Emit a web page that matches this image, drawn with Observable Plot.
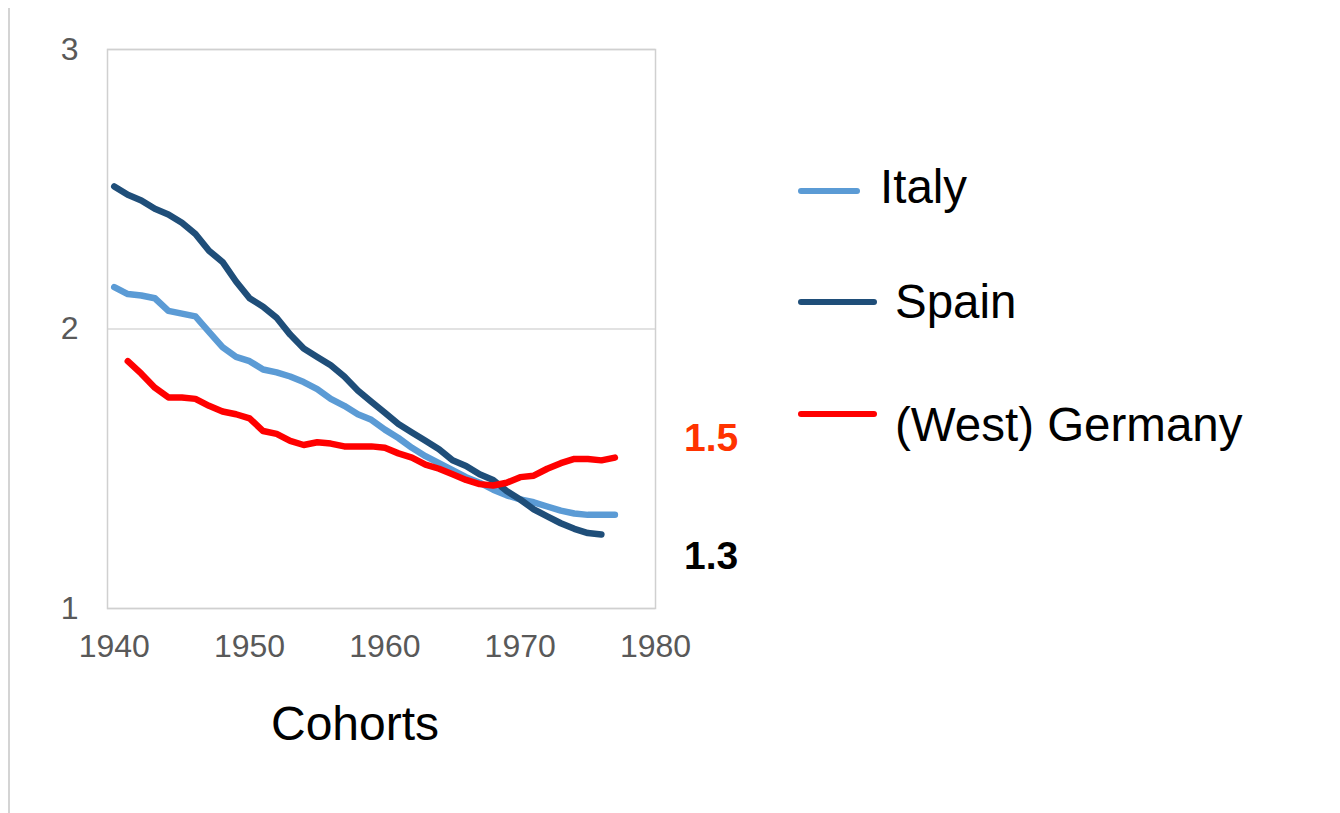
<!DOCTYPE html>
<html>
<head>
<meta charset="utf-8">
<script src="https://cdn.jsdelivr.net/npm/d3@7"></script>
<script src="https://cdn.jsdelivr.net/npm/@observablehq/plot@0.6"></script>
<style>
  html, body { margin: 0; padding: 0; background: #fff; }
  #wrap { position: relative; width: 1340px; height: 813px; overflow: hidden; font-family: "Liberation Sans", Arial, sans-serif; }
  #leftline { position: absolute; left: 8px; top: 8px; width: 2px; height: 805px; background: #d4d4d4; }
  .lbl { position: absolute; line-height: 1; white-space: nowrap; font-family: "Liberation Sans", Arial, sans-serif; }
  .sw { position: absolute; height: 6px; border-radius: 3px; }
</style>
</head>
<body>
<div id="wrap"><div id="leftline"></div></div>
<script>
const xTicks = [1940, 1950, 1960, 1970, 1980];
const yTicks = [1, 2, 3];

const italyYears = d3.range(1940, 1978);
const italy = [2.15, 2.125, 2.12, 2.11, 2.065, 2.055, 2.045, 1.99, 1.935, 1.90,
               1.885, 1.855, 1.845, 1.83, 1.81, 1.785, 1.75, 1.725, 1.695, 1.675,
               1.64, 1.61, 1.575, 1.545, 1.52, 1.495, 1.47, 1.45, 1.425, 1.405,
               1.39, 1.38, 1.365, 1.35, 1.34, 1.335, 1.335, 1.335];

const spainYears = d3.range(1940, 1977);
const spain = [2.51, 2.48, 2.46, 2.43, 2.41, 2.38, 2.34, 2.28, 2.24, 2.17,
               2.11, 2.08, 2.04, 1.98, 1.93, 1.90, 1.87, 1.83, 1.78, 1.74,
               1.70, 1.66, 1.63, 1.60, 1.57, 1.53, 1.51, 1.48, 1.46, 1.42,
               1.39, 1.355, 1.33, 1.305, 1.285, 1.27, 1.265];

const germanyYears = d3.range(1941, 1978);
const germany = [1.885, 1.84, 1.79, 1.755, 1.755, 1.75, 1.725, 1.705, 1.695,
                 1.68, 1.635, 1.625, 1.60, 1.585, 1.595, 1.59, 1.58, 1.58, 1.58,
                 1.575, 1.555, 1.54, 1.515, 1.50, 1.48, 1.46, 1.445, 1.44, 1.45,
                 1.47, 1.475, 1.50, 1.52, 1.535, 1.535, 1.53, 1.54];

const seriesNames = ["Italy", "Spain", "(West) Germany"];
const seriesColors = ["#5b9bd5", "#1f4e79", "#ff0000"];
const annotations = ["1.5", "1.3"];
const annotationColors = ["#ff3300", "#000000"];
const xLabel = "Cohorts";

const rows = [];
italyYears.forEach((y, i) => rows.push({series: "Italy", year: y, value: italy[i]}));
spainYears.forEach((y, i) => rows.push({series: "Spain", year: y, value: spain[i]}));
germanyYears.forEach((y, i) => rows.push({series: "(West) Germany", year: y, value: germany[i]}));

const chart = Plot.plot({
  width: 1340,
  height: 813,
  marginTop: 49,
  marginBottom: 205,
  marginLeft: 107,
  marginRight: 685,
  style: {fontFamily: "'Liberation Sans', Arial, sans-serif", background: "transparent", overflow: "visible"},
  x: {domain: [1939.5, 1980], ticks: xTicks},
  y: {domain: [1, 3], ticks: yTicks},
  color: {domain: seriesNames, range: seriesColors},
  marks: [
    Plot.gridY(yTicks, {stroke: "#d9d9d9", strokeOpacity: 1, strokeWidth: 1.5}),
    Plot.frame({stroke: "#d0d0d0", strokeWidth: 1.5}),
    Plot.axisX(xTicks, {tickSize: 0, tickPadding: 26, fontSize: 32, fill: "#595959", tickFormat: d => String(d), label: null}),
    Plot.axisY(yTicks, {tickSize: 0, tickPadding: 29, fontSize: 32, fill: "#595959", tickFormat: d => String(d), label: null}),
    Plot.line(rows, {x: "year", y: "value", z: "series", stroke: "series", strokeWidth: 6.5, strokeLinejoin: "round", strokeLinecap: "round", curve: "linear"})
  ]
});

const wrap = document.getElementById("wrap");
chart.style.position = "absolute";
chart.style.left = "0px";
chart.style.top = "0px";
wrap.appendChild(chart);

function addLabel(text, left, baseline, size, color, weight) {
  const d = document.createElement("div");
  d.className = "lbl";
  d.textContent = text;
  d.style.fontSize = size + "px";
  d.style.left = left + "px";
  d.style.top = (baseline - 0.83 * size) + "px";
  d.style.color = color;
  if (weight) d.style.fontWeight = weight;
  wrap.appendChild(d);
}

// x-axis title
addLabel(xLabel, 271, 740, 48, "#000");

// legend
const legendRows = [
  {swY: 191, swL: 798, swR: 860, txL: 880, base: 202},
  {swY: 302, swL: 798, swR: 877, txL: 895, base: 317},
  {swY: 414, swL: 798, swR: 877, txL: 895, base: 440}
];
seriesNames.forEach((name, i) => {
  const r = legendRows[i];
  const s = document.createElement("div");
  s.className = "sw";
  s.style.left = r.swL + "px";
  s.style.width = (r.swR - r.swL) + "px";
  s.style.top = (r.swY - 3) + "px";
  s.style.background = seriesColors[i];
  wrap.appendChild(s);
  addLabel(name, r.txL, r.base, 47.5, "#000");
});

// annotations
addLabel(annotations[0], 684, 450, 39, annotationColors[0], "bold");
addLabel(annotations[1], 684, 568, 39, annotationColors[1], "bold");
</script>
</body>
</html>
